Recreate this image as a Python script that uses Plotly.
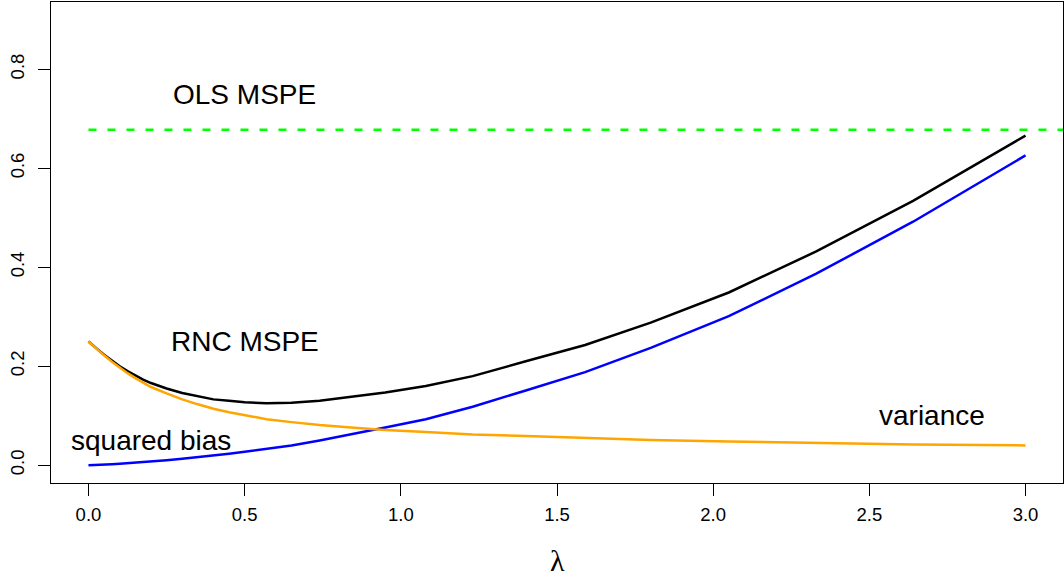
import plotly.graph_objects as go

# lambda grid
lam = [0, 0.01, 0.02, 0.035, 0.05, 0.075, 0.1, 0.125, 0.15, 0.175, 0.2, 0.25,
       0.3, 0.35, 0.4, 0.45, 0.5, 0.57, 0.65, 0.74, 0.84,
       0.95, 1.08, 1.23, 1.40, 1.59, 1.80, 2.05, 2.33, 2.64, 3.0]

variance = [0.250, 0.244, 0.238, 0.230, 0.222, 0.209, 0.197, 0.186, 0.176, 0.167,
            0.158, 0.145, 0.133, 0.123, 0.114, 0.107, 0.101, 0.093,
            0.087, 0.081, 0.076, 0.071, 0.067, 0.062, 0.059, 0.055, 0.051, 0.048,
            0.045, 0.042, 0.040]

sq_bias = [0.0, 0.0001, 0.0003, 0.0007, 0.001, 0.002, 0.003, 0.004, 0.005, 0.0065,
           0.008, 0.010, 0.013, 0.016, 0.019, 0.023, 0.027, 0.033,
           0.040, 0.050, 0.062, 0.076, 0.093, 0.118, 0.151, 0.188, 0.237, 0.301,
           0.387, 0.492, 0.626]

rnc_mspe = [0.250, 0.244, 0.238, 0.231, 0.223, 0.211, 0.200, 0.190, 0.181, 0.173,
            0.166, 0.155, 0.146, 0.139, 0.133, 0.130, 0.127, 0.125,
            0.126, 0.130, 0.138, 0.147, 0.160, 0.180, 0.210, 0.243, 0.288, 0.349,
            0.432, 0.534, 0.666]

ols_mspe = 0.678
ols_x = [0, 3.3]

x_ticks = [0.0, 0.5, 1.0, 1.5, 2.0, 2.5, 3.0]
y_ticks = [0.0, 0.2, 0.4, 0.6, 0.8]

labels = [
    (0.5, 0.75, "OLS MSPE"),
    (0.5, 0.25, "RNC MSPE"),
    (0.2, 0.05, "squared bias"),
    (2.7, 0.10, "variance"),
]

fig = go.Figure()
fig.add_trace(go.Scatter(x=ols_x, y=[ols_mspe, ols_mspe], mode="lines",
                         line=dict(color="#00FF00", width=2.5, dash="8px,11px")))
fig.add_trace(go.Scatter(x=lam, y=rnc_mspe, mode="lines",
                         line=dict(color="black", width=2.5)))
fig.add_trace(go.Scatter(x=lam, y=sq_bias, mode="lines",
                         line=dict(color="#0000FF", width=2.5)))
fig.add_trace(go.Scatter(x=lam, y=variance, mode="lines",
                         line=dict(color="#FFA500", width=2.5)))

for (x, y, t) in labels:
    fig.add_annotation(x=x, y=y, text=t, showarrow=False, xanchor="center",
                       yanchor="middle",
                       font=dict(family="Liberation Sans", size=28, color="black"))

fig.add_annotation(xref="paper", yref="paper", x=0.5, y=0, yshift=-77,
                   text="λ", showarrow=False, xanchor="center", yanchor="middle",
                   font=dict(family="Liberation Serif", size=30, color="black"))

fig.update_layout(
    width=1064, height=581,
    margin=dict(l=51, r=1, t=2, b=98),
    paper_bgcolor="white", plot_bgcolor="white",
    showlegend=False,
    font=dict(family="Liberation Sans", size=18.5, color="black"),
)
fig.update_xaxes(range=[-0.12, 3.12], tickvals=x_ticks, tickformat=".1f",
                 ticks="outside", ticklen=12, tickcolor="black", tickwidth=1,
                 ticklabelstandoff=3,
                 showline=True, linecolor="black", linewidth=1, mirror=True,
                 showgrid=False, zeroline=False,
                 tickfont=dict(family="Liberation Sans", size=18.5, color="black"))
fig.update_yaxes(range=[-0.036, 0.936], tickvals=y_ticks, tickformat=".1f",
                 ticks="outside", ticklen=12, tickcolor="black", tickwidth=1,
                 tickangle=-90, ticklabelstandoff=7,
                 showline=True, linecolor="black", linewidth=1, mirror=True,
                 showgrid=False, zeroline=False,
                 tickfont=dict(family="Liberation Sans", size=18.5, color="black"))

fig.write_html("out.html")
